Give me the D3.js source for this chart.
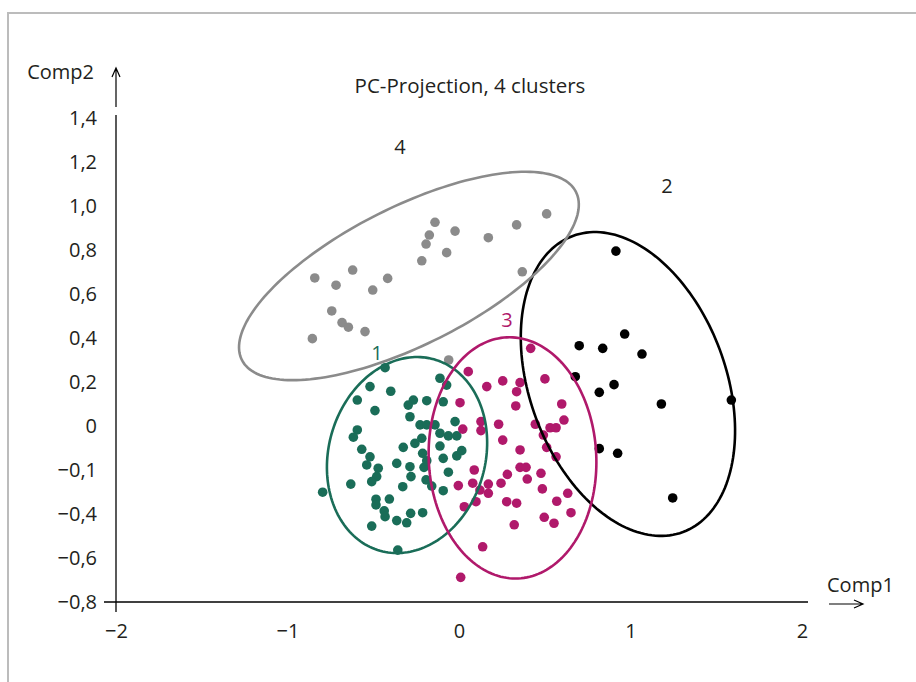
<!DOCTYPE html>
<html>
<head>
<meta charset="utf-8">
<script src="https://cdn.jsdelivr.net/npm/d3@7"></script>
<style>
  body { margin: 0; background: #fff; }
  svg { display: block; font-family: "Open Sans", sans-serif; }
</style>
</head>
<body>
<div id="chart"></div>
<script>
const xTicks = [-2, -1, 0, 1, 2];
const xTickLabels = ["\u22122", "\u22121", "0", "1", "2"];
const yTicks = [1.4, 1.2, 1.0, 0.8, 0.6, 0.4, 0.2, 0, -0.2, -0.4, -0.6, -0.8];
const yTickLabels = ["1,4", "1,2", "1,0", "0,8", "0,6", "0,4", "0,2", "0", "\u22120,1", "\u22120,4", "\u22120,6", "\u22120,8"];

// cluster 1 (green)
const cluster1 = [
  [-0.431, 0.265], [-0.519, 0.179], [-0.398, 0.158], [-0.593, 0.118], [-0.490, 0.070],
  [-0.111, 0.217], [-0.072, 0.186], [-0.266, 0.118], [-0.296, 0.095], [-0.188, 0.115],
  [-0.092, 0.110], [-0.286, 0.042], [-0.023, 0.020], [-0.227, 0.005], [-0.188, 0.005],
  [-0.140, 0.005], [-0.111, -0.033], [-0.062, -0.045], [-0.013, -0.045], [-0.217, -0.056],
  [-0.257, -0.079], [-0.325, -0.097], [-0.111, -0.091], [-0.593, -0.018], [-0.616, -0.051],
  [-0.567, -0.106], [-0.519, -0.140], [-0.538, -0.177], [-0.471, -0.192], [-0.480, -0.230],
  [-0.509, -0.253], [-0.363, -0.170], [-0.286, -0.185], [-0.212, -0.124], [-0.204, -0.188],
  [-0.188, -0.158], [-0.092, -0.147], [-0.013, -0.136], [0.016, -0.112], [-0.062, -0.210],
  [-0.280, -0.230], [-0.192, -0.245], [-0.159, -0.273], [-0.092, -0.294], [-0.328, -0.276],
  [-0.631, -0.264], [-0.795, -0.301], [-0.484, -0.333], [-0.406, -0.332], [-0.484, -0.359],
  [-0.436, -0.386], [-0.431, -0.412], [-0.282, -0.397], [-0.212, -0.394], [-0.363, -0.430],
  [-0.305, -0.440], [-0.509, -0.455], [-0.357, -0.564]
];

// cluster 2 (black)
const cluster2 = [
  [0.915, 0.795], [0.966, 0.418], [0.701, 0.365], [0.838, 0.353], [1.067, 0.327],
  [0.678, 0.224], [0.904, 0.188], [0.818, 0.153], [1.180, 0.100], [1.588, 0.118],
  [0.818, -0.103], [0.925, -0.124], [1.246, -0.327]
];

// cluster 3 (magenta)
const cluster3 = [
  [0.418, 0.353], [0.054, 0.247], [0.162, 0.179], [0.255, 0.205], [0.356, 0.197],
  [0.336, 0.156], [0.501, 0.214], [0.006, 0.106], [0.331, 0.091], [0.599, 0.100],
  [0.128, 0.020], [0.128, -0.021], [0.022, -0.014], [0.231, 0.008], [0.445, 0.008],
  [0.531, -0.008], [0.566, -0.008], [0.612, 0.027], [0.492, -0.041], [0.255, -0.064],
  [0.511, -0.097], [0.566, -0.140], [0.356, -0.109], [0.356, -0.188], [0.391, -0.188],
  [0.398, -0.241], [0.478, -0.215], [0.282, -0.220], [0.089, -0.200], [0.080, -0.260],
  [0.171, -0.264], [0.122, -0.291], [0.171, -0.306], [-0.004, -0.271], [0.245, -0.260],
  [0.486, -0.286], [0.634, -0.306], [0.099, -0.344], [0.278, -0.344], [0.336, -0.351],
  [0.570, -0.342], [0.031, -0.367], [0.653, -0.394], [0.497, -0.415], [0.554, -0.442],
  [0.322, -0.449], [0.138, -0.549], [0.010, -0.688]
];

// cluster 4 (grey)
const cluster4 = [
  [0.511, 0.964], [0.336, 0.914], [0.171, 0.856], [-0.023, 0.886], [-0.140, 0.926],
  [-0.173, 0.868], [-0.192, 0.827], [-0.072, 0.788], [-0.217, 0.751], [0.369, 0.701],
  [-0.416, 0.671], [-0.503, 0.618], [-0.620, 0.709], [-0.717, 0.640], [-0.841, 0.673],
  [-0.742, 0.523], [-0.682, 0.470], [-0.645, 0.449], [-0.548, 0.429], [-0.855, 0.397],
  [-0.060, 0.300]
];

// ellipse: center, first semi-axis vector, second semi-axis vector (data units)
const ellipses = [
  { name: "1", center: [-0.303, -0.132], u: [0.157, 0.435], v: [0.440, -0.096], label: [-0.478, 0.332] },
  { name: "2", center: [0.985, 0.191], u: [0.321, -0.673], v: [0.536, 0.155], label: [1.213, 1.091] },
  { name: "3", center: [0.312, -0.145], u: [-0.033, 0.548], v: [0.488, 0.018], label: [0.280, 0.482] },
  { name: "4", center: [-0.292, 0.682], u: [0.974, 0.382], v: [0.181, -0.280], label: [-0.344, 1.268] }
];

const clusters = [
  { name: "4", points: cluster4, color: "#8b8b8b", labelColor: "#231f20" },
  { name: "2", points: cluster2, color: "#000000", labelColor: "#231f20" },
  { name: "1", points: cluster1, color: "#1a6d58", labelColor: "#1a6d58" },
  { name: "3", points: cluster3, color: "#b0196b", labelColor: "#b0196b" }
];

const width = 916;
const height = 682;
const fontSize = 20;

const svg = d3
  .select("#chart")
  .append("svg")
  .attr("width", width)
  .attr("height", height);

// frame
svg
  .append("path")
  .attr("d", `M8,${height} L8,13 L${width},13`)
  .attr("fill", "none")
  .attr("stroke", "#bcbcbc")
  .attr("stroke-width", 2);

const x = d3.scaleLinear().domain([-2, 2]).range([116, 802]);
const y = d3.scaleLinear().domain([-0.8, 1.4]).range([602, 118]);

// axes lines
svg
  .append("line")
  .attr("x1", x(-2))
  .attr("x2", x(-2))
  .attr("y1", y(1.4) - 3)
  .attr("y2", y(-0.8) + 10)
  .attr("stroke", "#000")
  .attr("stroke-width", 1.3);

svg
  .append("line")
  .attr("x1", x(-2) - 12)
  .attr("x2", x(2) + 6)
  .attr("y1", y(-0.8))
  .attr("y2", y(-0.8))
  .attr("stroke", "#000")
  .attr("stroke-width", 1.3);

const yAxis = svg
  .append("g")
  .attr("transform", `translate(${x(-2)},0)`)
  .call(
    d3
      .axisLeft(y)
      .tickValues(yTicks)
      .tickSize(0)
      .tickPadding(19)
      .tickFormat((d, i) => yTickLabels[i])
  );
yAxis.select(".domain").remove();
yAxis.selectAll("text").attr("font-size", fontSize).attr("fill", "#231f20").attr("font-family", "Open Sans");

const xAxis = svg
  .append("g")
  .attr("transform", `translate(0,${y(-0.8)})`)
  .call(
    d3
      .axisBottom(x)
      .tickValues(xTicks)
      .tickSize(0)
      .tickPadding(22)
      .tickFormat((d, i) => xTickLabels[i])
  );
xAxis.select(".domain").remove();
xAxis.selectAll("text").attr("font-size", fontSize).attr("fill", "#231f20").attr("font-family", "Open Sans");

// arrows
const arrow = svg.append("g").attr("stroke", "#000").attr("stroke-width", 1.2).attr("fill", "none");
const ax = x(-2);
arrow.append("path").attr("d", `M${ax},107 L${ax},68 M${ax - 4},77 L${ax},68 L${ax + 4},77`);
const ay = y(-0.8) + 2;
arrow.append("path").attr("d", `M829,${ay} L863,${ay} M854,${ay - 4} L863,${ay} L854,${ay + 4}`);

svg
  .append("text")
  .attr("x", 94)
  .attr("y", 79)
  .attr("text-anchor", "end")
  .attr("font-size", fontSize)
  .attr("fill", "#231f20")
  .text("Comp2");

svg
  .append("text")
  .attr("x", 827)
  .attr("y", 592)
  .attr("font-size", fontSize)
  .attr("fill", "#231f20")
  .text("Comp1");

svg
  .append("text")
  .attr("x", 470)
  .attr("y", 93)
  .attr("text-anchor", "middle")
  .attr("font-size", 20.5)
  .attr("fill", "#231f20")
  .text("PC-Projection, 4 clusters");

// points
clusters.forEach((c) => {
  svg
    .append("g")
    .selectAll("circle")
    .data(c.points)
    .enter()
    .append("circle")
    .attr("cx", (d) => x(d[0]))
    .attr("cy", (d) => y(d[1]))
    .attr("r", 4.8)
    .attr("fill", c.color);
});

// ellipses
const line = d3
  .line()
  .x((d) => x(d[0]))
  .y((d) => y(d[1]))
  .curve(d3.curveLinearClosed);

ellipses.forEach((e) => {
  const c = clusters.find((k) => k.name === e.name);
  const pts = d3.range(0, 2 * Math.PI, Math.PI / 90).map((t) => [
    e.center[0] + e.u[0] * Math.cos(t) + e.v[0] * Math.sin(t),
    e.center[1] + e.u[1] * Math.cos(t) + e.v[1] * Math.sin(t)
  ]);
  svg
    .append("path")
    .attr("d", line(pts))
    .attr("fill", "none")
    .attr("stroke", c.color)
    .attr("stroke-width", 2.6);

  svg
    .append("text")
    .attr("x", x(e.label[0]))
    .attr("y", y(e.label[1]))
    .attr("dy", "0.35em")
    .attr("text-anchor", "middle")
    .attr("font-size", fontSize)
    .attr("fill", c.labelColor)
    .text(e.name);
});
</script>
</body>
</html>
